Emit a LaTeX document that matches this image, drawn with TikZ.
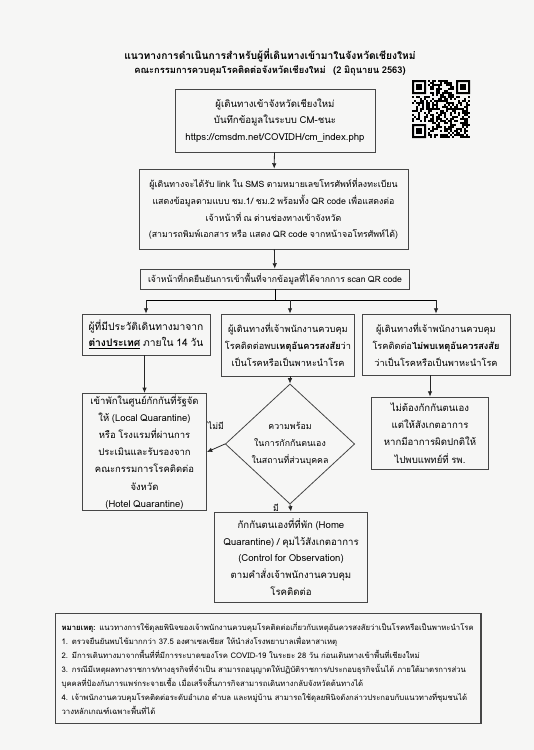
\documentclass[tikz,border=0pt]{standalone}
\usepackage{fontspec}
\setmainfont[Script=Thai,WordSpace=0.8]{Loma}
\usetikzlibrary{shapes.geometric,arrows.meta}
\definecolor{paper}{RGB}{246,246,245}
\definecolor{ink}{RGB}{70,70,70}

\tikzset{
  stepbox/.style={draw=ink, line width=0.6pt, align=center, inner sep=1pt,
    font=\fontsize{6.6}{12.6}\selectfont},
  boxsize/.style={font=\fontsize{#1}{12.6}\selectfont},
  flow/.style={draw=black!85, line width=0.6pt, -{Latex[length=4pt,width=3.4pt]}},
  qrmod/.style={fill=black},
}

\begin{document}
\begin{tikzpicture}[x=0.75pt,y=-0.75pt]
          \useasboundingbox[fill=paper] (0,0) rectangle (534,750);
          % heading
          \node[font=\fontsize{7.7}{10}\selectfont\bfseries] (title) at (270,55) {แนวทางการดำเนินการสำหรับผู้ที่เดินทางเข้ามาในจังหวัดเชียงใหม่};
          \node[font=\fontsize{7}{9}\selectfont\bfseries] (subtitle) at (270,71) {คณะกรรมการควบคุมโรคติดต่อจังหวัดเชียงใหม่~~~(2 มิถุนายน 2563)};
          %
          \node[stepbox, boxsize=7.2, minimum width=150pt, minimum height=47.25pt] (register) at (275,120.5) {ผู้เดินทางเข้าจังหวัดเชียงใหม่\\ บันทึกข้อมูลในระบบ CM-ชนะ\\ https://cmsdm.net/COVIDH/cm\_index.php};
          \node[stepbox, minimum width=201.75pt, minimum height=60pt] (sms) at (273.5,209) {ผู้เดินทางจะได้รับ link ใน SMS ตามหมายเลขโทรศัพท์ที่ลงทะเบียน\\ แสดงข้อมูลตามแบบ ชม.1/ ชม.2 พร้อมทั้ง QR code เพื่อแสดงต่อ\\ เจ้าหน้าที่ ณ ด่านช่องทางเข้าจังหวัด\\ (สามารถพิมพ์เอกสาร หรือ แสดง QR code จากหน้าจอโทรศัพท์ได้)};
          \node[stepbox, boxsize=6.5, minimum width=201.75pt, minimum height=15pt] (scan) at (275,279) {เจ้าหน้าที่กดยืนยันการเข้าพื้นที่จากข้อมูลที่ได้จากการ scan QR code};
          \coordinate (split) at (275,300);
          %
          \node[stepbox, boxsize=7.7, minimum width=96pt, minimum height=30.75pt] (abroad) at (146,334.5) {ผู้ที่มีประวัติเดินทางมาจาก\\ \underline{\textbf{ต่างประเทศ}} ภายใน 14 วัน};
          \node[stepbox, boxsize=6.9, minimum width=99.75pt, minimum height=46.5pt] (suspect) at (288,345) {ผู้เดินทางที่เจ้าพนักงานควบคุม\\ โรคติดต่อพบ\textbf{เหตุอันควรสงสัย}ว่า\\ เป็นโรคหรือเป็นพาหะนำโรค};
          \node[stepbox, boxsize=6.9, minimum width=111pt, minimum height=45.75pt] (nosuspect) at (436,344.5) {ผู้เดินทางที่เจ้าพนักงานควบคุม\\ โรคติดต่อ\textbf{ไม่พบเหตุอันควรสงสัย}\\ ว่าเป็นโรคหรือเป็นพาหะนำโรค};
          %
          \node[stepbox, font=\fontsize{7.1}{12.8}\selectfont, minimum width=93pt, minimum height=88pt] (quarantine) at (144.5,452) {เข้าพักในศูนย์กักกันที่รัฐจัด\\ ให้ (Local Quarantine)\\ หรือ โรงแรมที่ผ่านการ\\ ประเมินและรับรองจาก\\ คณะกรรมการโรคติดต่อ\\ จังหวัด\\ (Hotel Quarantine)};
          \node[stepbox, diamond, inner sep=0pt, minimum width=97pt, minimum height=80pt] (ready) at (290,444) {ความพร้อม\\ ในการกักกันตนเอง\\ ในสถานที่ส่วนบุคคล};
          \node[stepbox, font=\fontsize{7.2}{13}\selectfont, minimum width=88pt, minimum height=54pt] (monitor) at (430,433) {ไม่ต้องกักกันตนเอง\\ แต่ให้สังเกตอาการ\\ หากมีอาการผิดปกติให้\\ ไปพบแพทย์ที่ รพ.};
          \node[stepbox, boxsize=7.2, minimum width=114.75pt, minimum height=67.5pt] (home) at (291,557) {กักกันตนเองที่ที่พัก (Home\\ Quarantine) / คุมไว้สังเกตอาการ\\ (Control for Observation)\\ ตามคำสั่งเจ้าพนักงานควบคุม\\ โรคติดต่อ};
          %
          \node[draw=ink, line width=0.9pt, anchor=north west, align=left, inner xsep=4.5pt,
                minimum width=317pt, minimum height=82.5pt, text width=310pt,
                font=\fontsize{5.8}{10.4}\selectfont] (note) at (55,613) {\mbox{\textbf{หมายเหตุ:} แนวทางการใช้ดุลยพินิจของเจ้าพนักงานควบคุมโรคติดต่อเกี่ยวกับเหตุอันควรสงสัยว่าเป็นโรคหรือเป็นพาหะนำโรค}\\ \mbox{1. ตรวจยืนยันพบไข้มากกว่า 37.5 องศาเซลเซียส ให้นำส่งโรงพยาบาลเพื่อหาสาเหตุ}\\ \mbox{2. มีการเดินทางมาจากพื้นที่ที่มีการระบาดของโรค COVID-19 ในระยะ 28 วัน ก่อนเดินทางเข้าพื้นที่เชียงใหม่}\\ \mbox{3. กรณีมีเหตุผลทางราชการ/ทางธุรกิจที่จำเป็น สามารถอนุญาตให้ปฏิบัติราชการ/ประกอบธุรกิจนั้นได้ ภายใต้มาตรการส่วน}\\ \mbox{บุคคลที่ป้องกันการแพร่กระจายเชื้อ เมื่อเสร็จสิ้นภารกิจสามารถเดินทางกลับจังหวัดต้นทางได้}\\ \mbox{4. เจ้าพนักงานควบคุมโรคติดต่อระดับอำเภอ ตำบล และหมู่บ้าน สามารถใช้ดุลยพินิจดังกล่าวประกอบกับแนวทางที่ชุมชนได้}\\ \mbox{วางหลักเกณฑ์เฉพาะพื้นที่ได้}};
          %
          \draw[flow] (register) -- (sms);
          \draw[flow] (sms) -- (scan);
          \draw[line width=0.6pt] (scan) -- (split);
          \draw[line width=0.6pt] (abroad.north |- split) -- (nosuspect.north |- split);
          \draw[flow] (abroad.north |- split) -- (abroad.north);
          \draw[flow] (ready.north |- split) -- (ready.north |- suspect.north);
          \draw[flow] (nosuspect.north |- split) -- (nosuspect.north);
          \draw[flow] (abroad.south -| quarantine.north) -- (quarantine.north);
          \draw[flow] (suspect.south -| ready.north) -- (ready.north);
          \draw[flow] (nosuspect.south -| monitor.north) -- (monitor.north);
          \draw[flow] (ready.west) -- node[above=10pt, font=\fontsize{6.6}{9}\selectfont] (nolabel) {ไม่มี} (quarantine.east);
          \draw[flow] (ready.south) -- node[left=5pt, font=\fontsize{6.6}{9}\selectfont] (yeslabel) {มี} (home.north);
          % QR code
          \coordinate (qr) at (412,80);
          \pgfmathsetseed{2563}
          \foreach \i in {0,...,28}{
            \foreach \j in {0,...,28}{
              \pgfmathtruncatemacro\qrfree{and(\i<8,\j<8)+and(\i>20,\j<8)+and(\i<8,\j>20)}
              \pgfmathtruncatemacro\qrbit{rnd<0.5}
              \ifnum\qrfree=0 \ifnum\qrbit=1
                \fill[qrmod] (qr) ++(\i*2,\j*2) rectangle ++(2,2);
              \fi\fi
            }
          }
          \foreach \cx/\cy in {0/0,44/0,0/44}{
            \fill[qrmod,even odd rule] (qr) ++(\cx,\cy) rectangle ++(14,14) (qr) ++(\cx+2,\cy+2) rectangle ++(10,10);
            \fill[qrmod] (qr) ++(\cx+4,\cy+4) rectangle ++(6,6);
          }
        \end{tikzpicture}
\end{document}
